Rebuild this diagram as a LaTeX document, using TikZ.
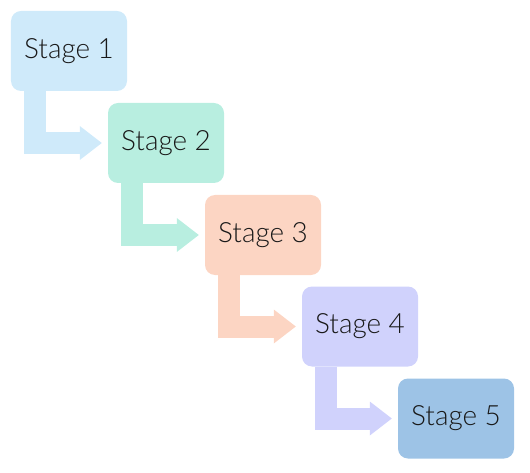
\documentclass[tikz,border=0pt]{standalone}
\usepackage{fontspec}
\setmainfont{Lato}[UprightFont=* Light]
\usetikzlibrary{arrows.meta}
\definecolor{stageA}{RGB}{207,234,250}
\definecolor{stageB}{RGB}{184,238,224}
\definecolor{stageC}{RGB}{252,213,195}
\definecolor{stageD}{RGB}{208,210,252}
\definecolor{stageE}{RGB}{157,195,230}
\tikzset{
  stagebox/.style={rounded corners=10bp, minimum width=116bp, minimum height=80bp, inner sep=0pt, text=black!90, font=\fontsize{28}{30}\selectfont},
  elbow/.style={line width=22bp, line join=miter, -{Triangle[width=34bp,length=22bp,line width=0pt]}}
}
\begin{document}
\begin{tikzpicture}[x=1bp,y=-1bp]
  \useasboundingbox (0,0) rectangle (530,473);
  \node[stagebox, fill=stageA] (s1) at (69,51) {Stage 1};
  \node[stagebox, fill=stageB] (s2) at (166,143) {Stage 2};
  \node[stagebox, fill=stageC] (s3) at (263,235) {Stage 3};
  \node[stagebox, fill=stageD] (s4) at (360,326.5) {Stage 4};
  \node[stagebox, fill=stageE] (s5) at (456,418.5) {Stage 5};
  \draw[elbow, stageA] ([xshift=24bp]s1.south west) |- ([xshift=-6bp]s2.west);
  \draw[elbow, stageB] ([xshift=24bp]s2.south west) |- ([xshift=-6bp]s3.west);
  \draw[elbow, stageC] ([xshift=24bp]s3.south west) |- ([xshift=-6bp]s4.west);
  \draw[elbow, stageD] ([xshift=24bp]s4.south west) |- ([xshift=-6bp]s5.west);
\end{tikzpicture}
\end{document}
